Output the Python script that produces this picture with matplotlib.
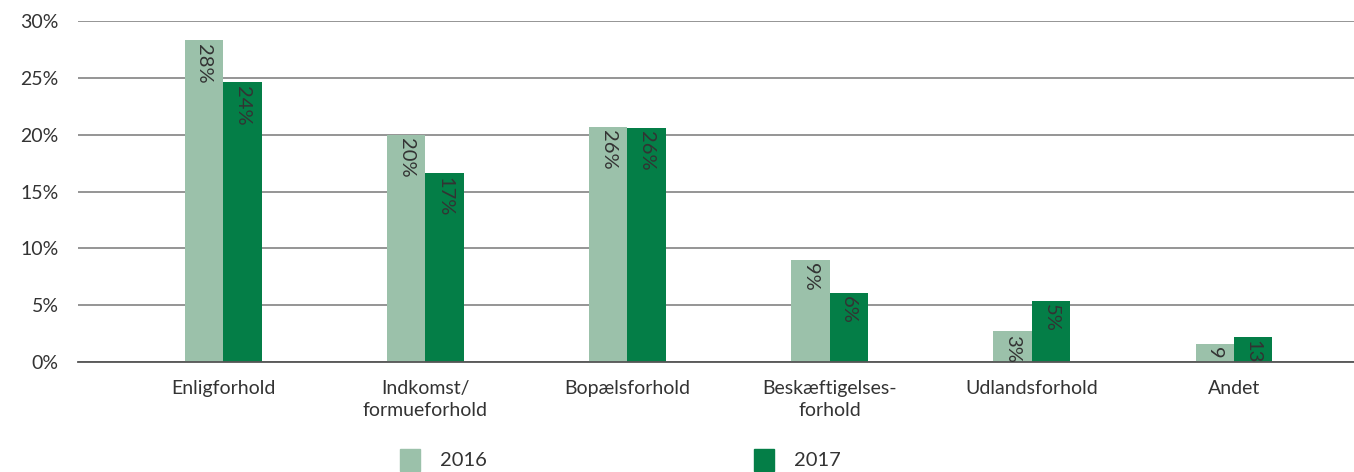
import numpy as np
import matplotlib.pyplot as plt
from matplotlib.patches import Patch

plt.rcParams['font.family'] = ['Lato', 'DejaVu Sans']

categories = ['Enligforhold', 'Indkomst/\nformueforhold', 'Bopælsforhold',
              'Beskæftigelses-\nforhold', 'Udlandsforhold', 'Andet']
v2016 = [28.3, 20.0, 20.7, 9.0, 2.7, 1.6]
v2017 = [24.6, 16.6, 20.6, 6.1, 5.4, 2.2]
lab2016 = ['28%', '20%', '26%', '9%', '3%', '9']
lab2017 = ['24%', '17%', '26%', '6%', '5%', '13']

c16 = '#9bc1aa'
c17 = '#047e47'
txt = '#333333'

fig = plt.figure(figsize=(13.54, 4.72), dpi=100)
ax = fig.add_axes([0.0576, 0.233, 0.9424, 0.7225])

x = np.arange(len(categories))
w = 0.19
b1 = ax.bar(x - w / 2, v2016, w, color=c16, zorder=2)
b2 = ax.bar(x + w / 2, v2017, w, color=c17, zorder=2)

for bars, labs in [(b1, lab2016), (b2, lab2017)]:
    for b, l in zip(bars, labs):
        ax.text(b.get_x() + b.get_width() / 2, b.get_height() - 0.3, l,
                rotation=270, ha='center', va='top', fontsize=14.5, color=txt, zorder=3)

ax.set_ylim(0, 30)
ax.set_xlim(-0.718, 5.594)
ax.set_yticks(range(0, 31, 5))
ax.set_yticklabels([f'{t}%' for t in range(0, 31, 5)])
ax.yaxis.grid(True, color='#8c8c8c', linewidth=1.3, zorder=0)
ax.set_axisbelow(True)
ax.set_xticks(x)
ax.set_xticklabels(categories, linespacing=1.35)
ax.tick_params(axis='both', length=0, labelsize=14, colors=txt)
ax.tick_params(axis='x', pad=13)
ax.tick_params(axis='y', pad=14)
for s in ['top', 'right', 'left']:
    ax.spines[s].set_visible(False)
ax.spines['bottom'].set_color('#555555')
ax.spines['bottom'].set_linewidth(1.3)

handles = [Patch(color=c16, label='2016'), Patch(color=c17, label='2017')]
fig.legend(handles=handles, loc='upper left', bbox_to_anchor=(0.282, 0.088), ncol=2,
           frameon=False, fontsize=14.5, handlelength=1.0, handleheight=1.3,
           columnspacing=13.25, handletextpad=1.0, labelcolor=txt)

fig.savefig('out.png', dpi=100)
